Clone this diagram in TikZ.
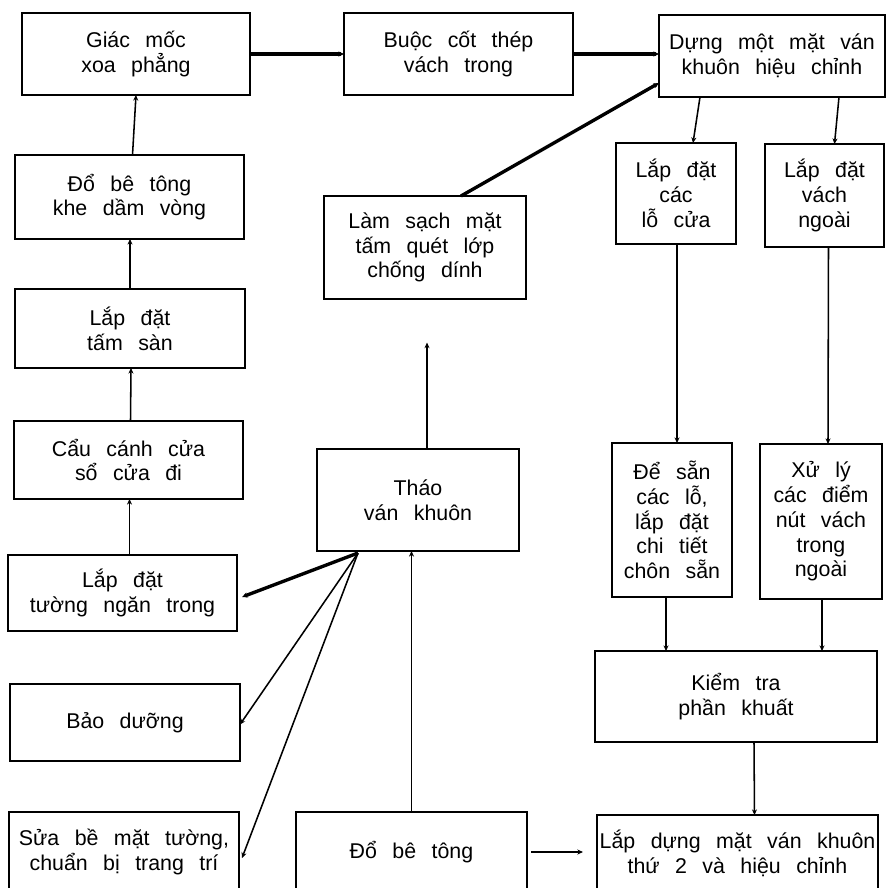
\documentclass[tikz,border=0pt]{standalone}
\usepackage{fontspec}
\setmainfont[WordSpace=2.6]{Liberation Sans}
\usetikzlibrary{arrows.meta,positioning,calc}

\tikzset{
  box/.style={draw, line width=1.5pt, inner sep=0pt, outer sep=0pt, align=center,
    font=\fontsize{15.2}{17.6}\selectfont},
  sz/.style 2 args={minimum width=#1*0.25mm, minimum height=#2*0.25mm},
  arr/.style={-{Stealth[length=4pt,width=3.6pt]}, line width=1.1pt},
  heavy/.style={arr, line width=2.4pt},
}

\begin{document}
\begin{tikzpicture}[x=0.25mm,y=-0.25mm]
    \useasboundingbox (0,0) rectangle (886,888);
    \clip (0,0) rectangle (886,888);
    \fill[white] (0,0) rectangle (886,888);

    % Left column
    \node[box, sz={228}{82}] (giac) at (136,54) {Giác mốc\\xoa phẳng};
    \node[box, sz={229}{84}] (dokhe) at (129.5,197) {Đổ bê tông\\khe dầm vòng};
    \node[box, sz={230}{79}] (tamsan) at (130,328.5) {Lắp đặt\\tấm sàn};
    \node[box, sz={229}{78}] (cau) at (128.5,460) {Cẩu cánh cửa\\sổ cửa đi};
    \node[box, sz={229}{76}] (tuong) at (122.5,593) {Lắp đặt\\tường ngăn trong};
    \node[box, sz={230}{77}] (baoduong) at (125,722.5) {Bảo dưỡng};
    \node[box, sz={230}{80}] (sua) at (124,852) {Sửa bề mặt tường,\\chuẩn bị trang trí};

    % Middle column
    \node[box, sz={229}{82}] (buoc) at (458.5,54) {Buộc cốt thép\\vách trong};
    \node[box, sz={202}{103}] (lamsach) at (425,247.5) {Làm sạch mặt\\tấm quét lớp\\chống dính};
    \node[box, sz={202}{102}] (thao) at (418,500) {Tháo\\ván khuôn};
    \node[box, sz={231}{80}] (dobt) at (411.5,852) {Đổ bê tông};

    % Right column
    \node[box, sz={226}{82}] (dung) at (772,56) {Dựng một mặt ván\\khuôn hiệu chỉnh};
    \node[box, sz={120}{101}] (laplo) at (676,193.5) {Lắp đặt\\các\\lỗ cửa};
    \node[box, sz={119}{103}] (lapvach) at (824.5,195.5) {Lắp đặt\\vách\\ngoài};
    \node[box, sz={120}{154}] (desan) at (672,520) {Để sẵn\\các lỗ,\\lắp đặt\\chi tiết\\chôn sẵn};
    \node[box, sz={122}{155}] (xuly) at (821,521.5) {Xử lý\\các điểm\\nút vách\\trong\\ngoài};
    \node[box, sz={282}{91}] (kiemtra) at (736,696.5) {Kiểm tra\\phần khuất};
    \node[box, sz={281}{77}] (lapdung) at (737.5,853.5) {Lắp dựng mặt ván khuôn\\thứ 2 và hiệu chỉnh};

    % Left column, going up
    \draw[arr] ($(dokhe.north)+(3,0)$) -- (giac.south);
    \draw[arr] (tamsan.north) -- (tamsan.north |- dokhe.south);
    \draw[arr] ($(cau.north)+(2,0)$) -- ($(tamsan.south)+(1,0)$);
    \draw[arr] ($(tuong.north)+(7,0)$) -- ($(cau.south)+(1,0)$);

    % Top row
    \draw[heavy] (giac.east) -- (buoc.west);
    \draw[heavy] (buoc.east) -- (buoc.east -| dung.west);
    \draw[heavy] ($(lamsach.north)+(36,0)$) -- ($(dung.west)+(0,27)$);

    % Right branches
    \draw[arr] ($(dung.south)+(-72,0)$) -- ($(laplo.north)+(17,0)$);
    \draw[arr] ($(dung.south)+(67,0)$) -- ($(lapvach.north)+(10,0)$);
    \draw[arr] ($(laplo.south)+(1,0)$) -- ($(desan.north)+(5,0)$);
    \draw[arr] ($(lapvach.south)+(4,0)$) -- ($(xuly.north)+(7,0)$);
    \draw[arr] ($(desan.south)+(-6,0)$) -- ($(kiemtra.north)+(-70,0)$);
    \draw[arr] ($(xuly.south)+(1,0)$) -- ($(kiemtra.north)+(86,0)$);
    \draw[arr] ($(kiemtra.south)+(18,0)$) -- ($(lapdung.north)+(17,0)$);

    % Bottom and middle
    \draw[arr, line width=0.8pt, shorten <=3, shorten >=10] (dobt.east) -- (dobt.east -| lapdung.west);
    \draw[arr] (dobt.north) -- (dobt.north |- thao.south);
    \draw[arr, shorten >=31] (thao.north -| 427,0) -- (lamsach.south -| 427,0);

    % Fan out of Thao van khuon
    \coordinate (fan) at ($(thao.south)+(-60,2)$);
    \draw[heavy] (fan) -- ($(tuong.east)+(5,4)$);
    \draw[arr] (fan) -- ($(baoduong.east)+(0,2)$);
    \draw[arr] (fan) -- ($(sua.east)+(3,6)$);
\end{tikzpicture}
\end{document}
